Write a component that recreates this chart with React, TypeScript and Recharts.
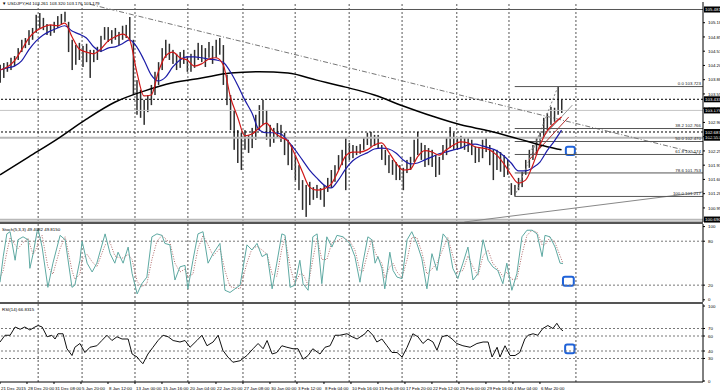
import React from "react";
import {
  ComposedChart,
  Bar,
  Line,
  XAxis,
  YAxis,
  ReferenceLine,
  ReferenceArea,
} from "recharts";

// USDJPY H4 — one candle = 2 H4 bars, x axis in candle units
const X_MAX = 195.3;

const candleHigh = [
  104.22, 104.26, 104.28, 104.38, 104.42, 104.6, 104.79, 104.83, 105.01, 105.06,
  105.36, 105.4, 105.29, 105.15, 105.13, 105.2, 105.33, 105.38, 105.43, 105.2,
  104.79, 104.67, 104.72, 104.65, 104.7, 104.56, 104.56, 104.63, 104.88, 105.08,
  105.08, 105.01, 105.06, 104.97, 105.11, 105.13, 105.31, 104.79, 103.87, 103.65,
  103.42, 103.53, 103.76, 104.06, 104.28, 104.6, 104.79, 104.7, 104.56, 104.47,
  104.51, 104.56, 104.42, 104.47, 104.56, 104.72, 104.67, 104.6, 104.74, 104.65,
  104.79, 104.83, 104.67, 103.99, 103.53, 103.19, 102.73, 102.67, 102.73, 102.62,
  102.78, 103.08, 103.3, 103.42, 103.19, 102.85, 102.78, 102.89, 102.85, 102.67,
  102.51, 102.39, 102.16, 101.93, 101.59, 101.48, 101.55, 101.43, 101.48, 101.41,
  101.48, 101.64, 101.82, 101.93, 102.16, 102.28, 102.57, 102.44, 102.39, 102.37,
  102.41, 102.55, 102.67, 102.69, 102.62, 102.62, 102.39, 102.28, 102.16, 102.05,
  102.0, 101.93, 101.87, 102.05, 102.12, 102.51, 102.69, 102.44, 102.39, 102.32,
  102.28, 102.16, 102.12, 102.39, 102.55, 102.8, 102.67, 102.57, 102.6, 102.55,
  102.57, 102.51, 102.35, 102.32, 102.51, 102.57, 102.39, 102.28, 102.28, 102.23,
  102.16, 102.05, 101.52, 101.48, 101.64, 101.78, 102.05, 102.28, 102.39, 102.55,
  102.67, 103.01, 103.12, 103.26, 103.24, 103.72, 103.42,
];

const candleLow = [
  103.81, 103.92, 104.06, 104.1, 104.19, 104.33, 104.51, 104.6, 104.67, 104.79,
  104.95, 105.06, 105.01, 104.9, 104.88, 104.95, 105.06, 105.15, 105.2, 104.51,
  104.1, 104.22, 104.33, 104.17, 104.28, 103.92, 104.28, 104.33, 104.51, 104.79,
  104.74, 104.7, 104.79, 104.67, 104.79, 104.83, 104.79, 103.53, 103.08, 103.01,
  102.85, 103.14, 103.3, 103.53, 103.76, 104.1, 104.38, 104.33, 104.24, 104.1,
  104.15, 104.24, 104.06, 104.06, 104.15, 104.33, 104.28, 104.17, 104.38, 104.24,
  104.38, 104.45, 103.76, 103.3, 102.73, 102.28, 101.98, 101.82, 102.28, 102.21,
  102.32, 102.51, 102.73, 102.85, 102.51, 102.35, 102.44, 102.55, 102.46, 102.16,
  101.93, 101.82, 101.59, 101.36, 100.91, 100.75, 101.02, 101.14, 101.18, 101.14,
  100.98, 101.32, 101.41, 101.55, 101.82, 101.93, 101.36, 102.05, 102.09, 102.16,
  102.19, 102.28, 102.39, 102.35, 102.37, 102.32, 102.05, 101.93, 101.75, 101.71,
  101.59, 101.59, 101.36, 101.75, 101.82, 102.0, 102.16, 102.05, 101.89, 101.93,
  101.89, 101.66, 101.71, 102.05, 102.16, 102.32, 102.28, 102.28, 102.32, 102.28,
  102.23, 102.16, 101.98, 102.0, 102.09, 102.23, 101.93, 101.59, 101.82, 101.78,
  101.66, 101.71, 101.25, 101.22, 101.36, 101.43, 101.71, 101.87, 102.05, 102.16,
  102.32, 102.57, 102.73, 102.85, 102.92, 103.08, 103.12,
];

// moving averages read every 2nd candle
const redMA = [
  104.1, 104.17, 104.31, 104.56, 104.83, 104.99, 105.08, 105.13, 105.11, 105.17,
  104.86, 104.58, 104.51, 104.47, 104.58, 104.76, 104.86, 104.92, 104.79, 104.06,
  103.51, 103.53, 104.06, 104.42, 104.51, 104.38, 104.33, 104.19, 104.24, 104.35,
  104.38, 104.22, 103.49, 103.03, 102.6, 102.64, 102.78, 102.89, 102.69, 102.57,
  102.48, 102.16, 101.78, 101.43, 101.36, 101.39, 101.5, 101.8, 102.14, 102.23,
  102.23, 102.28, 102.39, 102.44, 102.23, 101.98, 101.82, 101.84, 102.12, 102.26,
  102.23, 102.16, 102.28, 102.39, 102.46, 102.44, 102.35, 102.32, 102.28, 102.16,
  101.96, 101.71, 101.52, 101.59, 101.93, 102.39, 102.71, 102.89, 103.03,
];

const blueMA = [
  104.1, 104.15, 104.19, 104.31, 104.56, 104.76, 104.9, 104.99, 105.06, 105.11,
  104.99, 104.92, 104.83, 104.63, 104.53, 104.6, 104.63, 104.7, 104.79, 104.63,
  104.33, 103.99, 103.85, 103.94, 104.17, 104.33, 104.4, 104.4, 104.38, 104.35,
  104.33, 104.28, 104.06, 103.76, 103.42, 103.12, 102.73, 102.67, 102.67, 102.64,
  102.48, 102.28, 102.05, 101.82, 101.64, 101.48, 101.41, 101.59, 101.84, 102.03,
  102.14, 102.21, 102.3, 102.32, 102.3, 102.21, 102.05, 101.96, 101.98, 102.05,
  102.12, 102.19, 102.23, 102.28, 102.32, 102.39, 102.41, 102.37, 102.32, 102.26,
  102.14, 101.98, 101.8, 101.8, 101.87, 102.0, 102.26, 102.48, 102.73,
];

const blackMAx = [0, 8, 16, 24, 32, 40, 48, 56, 64, 72, 80, 88, 96, 104, 112, 120, 128, 136, 144, 152, 156];
const blackMA = [
  101.71, 102.12, 102.53, 102.98, 103.37, 103.62, 103.81, 103.92, 104.03, 104.06,
  104.03, 103.87, 103.71, 103.53, 103.28, 103.05, 102.85, 102.71, 102.53, 102.35, 102.28,
];

const stochX = [
  0, 0.9, 1.9, 2.8, 4.2, 5, 6.4, 7.8, 8.3, 9.2, 10.3, 10.6, 11.7, 13.3, 14.7, 16.7, 18.1, 20, 20.8, 22.2,
  22.8, 24.2, 25.6, 26.9, 29.2, 30.6, 31.9, 32.8, 34.2, 35.6, 36.7, 38.1, 39.4, 40.8, 42.2, 43.6, 45, 45.8, 47.2, 48.6,
  50, 51.4, 52.2, 53.6, 55, 56.4, 57.8, 59.2, 61.1, 62.5, 63.9, 66.7, 68.6, 70, 71.4, 72.8, 74.2, 75.6, 76.9, 78.3,
  79.2, 80.6, 81.9, 83.3, 84.2, 85.6, 86.9, 88.1, 89.4, 90.8, 92.2, 93.6, 95.3, 97.2, 98.6, 100, 100.8, 102.2, 103.3, 104.2,
  105, 106.1, 106.9, 108.3, 109.2, 110.3, 111.7, 113.1, 114.4, 115.8, 117.2, 118.6, 120, 121.4, 123.1, 124.4, 125.8, 127.2, 128.6, 130,
  131.4, 132.8, 134.2, 135.6, 136.9, 138.3, 139.7, 140.8, 142.2, 143.6, 145, 146.4, 147.8, 149.2, 150.6, 151.4, 152.8, 154.2, 155.6, 156.4,
];
const stochK = [
  24, 59, 90, 93, 54, 82, 86, 82, 43, 63, 93, 96, 72, 17, 50, 88, 82, 17, 20, 54,
  80, 50, 38, 50, 90, 63, 50, 65, 50, 72, 36, 8, 22, 31, 86, 90, 88, 77, 75, 27,
  45, 47, 15, 54, 90, 93, 50, 63, 77, 13, 10, 20, 75, 68, 77, 59, 63, 15, 50, 90,
  88, 17, 20, 54, 22, 13, 86, 90, 22, 86, 72, 88, 86, 77, 59, 24, 50, 86, 82, 50,
  59, 43, 15, 65, 40, 31, 29, 82, 93, 77, 56, 15, 63, 40, 90, 82, 43, 29, 50, 72,
  27, 36, 82, 54, 45, 40, 22, 50, 13, 36, 86, 95, 95, 90, 59, 88, 86, 72, 50, 49.4,
];
const stochD = [
  30, 40, 65, 85, 75, 70, 78, 84, 75, 62, 72, 80, 88, 45, 35, 70, 86, 40, 28, 35,
  55, 62, 52, 45, 75, 78, 60, 58, 57, 62, 55, 25, 18, 22, 55, 80, 88, 84, 78, 50,
  38, 42, 32, 35, 70, 88, 75, 60, 70, 40, 18, 15, 50, 70, 73, 68, 62, 35, 32, 70,
  85, 45, 22, 35, 35, 20, 55, 85, 55, 55, 78, 80, 85, 80, 68, 40, 38, 65, 82, 65,
  57, 50, 30, 45, 50, 38, 30, 55, 85, 85, 65, 35, 42, 50, 70, 85, 60, 38, 40, 60,
  45, 33, 60, 68, 50, 42, 32, 38, 28, 28, 62, 88, 95, 92, 75, 75, 85, 78, 60, 49.8,
];

const rsiX = [
  0, 1.4, 2.8, 4.2, 5.6, 6.9, 8.3, 9.7, 10.6, 11.7, 13.1, 14.4, 15.3, 16.1, 17.5, 18.6, 20, 20.8, 22.2, 23.6,
  25, 26.9, 28.3, 29.7, 31.1, 32.5, 33.9, 35.6, 36.7, 38.1, 38.9, 39.7, 41.1, 42.5, 43.9, 45.3, 46.7, 48.1, 50, 51.4,
  52.8, 54.7, 56.1, 57.5, 59.2, 60.6, 61.9, 63.3, 64.7, 66.7, 68.6, 70.3, 71.7, 73.1, 74.2, 75.6, 76.9, 78.3, 79.7, 81.4,
  82.8, 84.2, 85.6, 86.9, 88.9, 90.3, 91.7, 93.1, 94.4, 96.4, 97.8, 99.2, 101.4, 102.2, 103.6, 104.7, 106.1, 107.5, 108.9, 110.3,
  111.7, 113.1, 114.7, 116.1, 117.5, 118.9, 120.3, 121.4, 122.8, 124.2, 125.6, 126.9, 128.6, 130.6, 132.5, 134.2, 135.6, 136.7, 138.1, 138.9,
  140.3, 141.7, 143.1, 144.4, 145.8, 146.7, 148.1, 149.4, 150.8, 152.2, 153.6, 154.7, 155.6, 156.4,
];
const rsiV = [
  52, 61, 61, 72, 69, 72, 68, 72, 74, 72, 59, 61, 56, 63, 63, 43, 34, 45, 50, 38,
  45, 47, 54, 61, 54, 59, 56, 56, 36, 32, 27, 23, 36, 45, 54, 61, 59, 54, 52, 54,
  45, 54, 61, 47, 52, 61, 41, 32, 25, 27, 34, 43, 50, 43, 54, 36, 38, 47, 45, 43,
  43, 29, 34, 43, 36, 45, 47, 61, 61, 63, 59, 56, 63, 68, 61, 52, 56, 47, 38, 38,
  32, 45, 63, 59, 50, 56, 52, 41, 59, 61, 56, 50, 47, 45, 50, 52, 52, 32, 45, 32,
  47, 34, 34, 38, 56, 61, 63, 61, 70, 74, 70, 77, 70, 66.8,
];

const timeLabels = [
  "21 Dec 2015", "28 Dec 20:00", "31 Dec 08:00", "5 Jan 20:00", "8 Jan 12:00",
  "13 Jan 00:00", "15 Jan 16:00", "20 Jan 04:00", "22 Jan 20:00", "27 Jan 08:00",
  "30 Jan 00:00", "3 Feb 12:00", "8 Feb 04:00", "10 Feb 16:00", "15 Feb 08:00",
  "17 Feb 20:00", "22 Feb 12:00", "25 Feb 00:00", "29 Feb 16:00", "4 Mar 04:00",
  "6 Mar 20:00",
];
const timeTicks = timeLabels.map((_, i) => i * 7.5);
const weekGrid = [10.6, 22.8, 37.5, 52.2, 67.5, 82, 97, 111.7, 126.9, 141.4, 160];

const priceTicks = [
  105.18, 104.855, 104.53, 104.205, 103.88, 103.555, 103.23, 102.905, 102.58,
  102.255, 101.93, 101.605, 101.28, 100.955,
];

const fibLevels = [
  { r: "0.0", v: 103.723 },
  { r: "38.2", v: 102.766 },
  { r: "50.0", v: 102.47 },
  { r: "61.8", v: 102.174 },
  { r: "78.6", v: 101.753 },
  { r: "100.0", v: 101.217 },
];

const FONT = "'Liberation Sans', Arial, sans-serif";
const FS = 4.4;

const mainRows = candleHigh.map((h, i) => {
  const bi = blackMAx.indexOf(i);
  return {
    x: i,
    range: [candleLow[i], h],
    red: i % 2 === 0 ? redMA[i / 2] : null,
    blue: i % 2 === 0 ? blueMA[i / 2] : null,
    black: bi >= 0 ? blackMA[bi] : null,
  };
});
const stochRows = stochX.map((x, i) => ({ x, k: stochK[i], d: stochD[i] }));
const rsiRows = rsiX.map((x, i) => ({ x, v: rsiV[i] }));

const RightTick = (props: any) => {
  const { x, y, payload, digits } = props;
  return (
    <text x={x + 1} y={y + 1.6} fontSize={FS} fontFamily={FONT} fill="#000">
      {Number(payload.value).toFixed(digits)}
    </text>
  );
};

const TimeTick = (props: any) => {
  const { x, y, payload } = props;
  const label = timeLabels[Math.round(payload.value / 7.5)];
  return (
    <text x={x + 1} y={y + 3.5} fontSize={FS} fontFamily={FONT} fill="#000">
      {label}
    </text>
  );
};

const TagLabel = (props: any) => {
  const { viewBox, text } = props;
  const right = viewBox.x + viewBox.width;
  return (
    <g>
      <rect x={right + 1} y={viewBox.y - 3} width={17} height={6} fill="#000" />
      <text x={right + 2} y={viewBox.y + 1.6} fontSize={FS} fontFamily={FONT} fill="#fff">
        {text}
      </text>
    </g>
  );
};

const FibLabel = (props: any) => {
  const { viewBox, text } = props;
  return (
    <text
      x={viewBox.x + viewBox.width - 2}
      y={viewBox.y - 1.2}
      fontSize={FS}
      fontFamily={FONT}
      fill="#222"
      textAnchor="end"
    >
      {text}
    </text>
  );
};

const Candle = (props: any) => {
  const { x, width, y, height } = props;
  const cx = x + width / 2;
  return <rect x={cx - 0.75} y={y} width={1.5} height={Math.max(height, 1)} fill="#2e2e2e" />;
};

const gridLines = weekGrid.map((g) => (
  <ReferenceLine key={"g" + g} x={g} stroke="#555" strokeDasharray="2 2" />
));

function MainPanel() {
  return (
    <ComposedChart
      width={720}
      height={224}
      data={mainRows}
      margin={{ top: 2, right: 0, bottom: 2, left: 0 }}
    >
      <XAxis type="number" dataKey="x" domain={[0, X_MAX]} allowDataOverflow hide />
      <YAxis
        orientation="right"
        width={17}
        domain={[100.634, 105.652]}
        allowDataOverflow
        ticks={priceTicks}
        interval={0}
        tickSize={2}
        tickLine={{ stroke: "#000" }}
        axisLine={{ stroke: "#000" }}
        tick={<RightTick digits={3} />}
      />
      {gridLines}
      <ReferenceLine y={105.481} stroke="#555" label={<TagLabel text="105.481" />} />
      <ReferenceLine y={103.433} stroke="#000" strokeDasharray="2 2" label={<TagLabel text="103.433" />} />
      <ReferenceLine y={103.179} stroke="#c4c4c4" label={<TagLabel text="103.179" />} />
      <ReferenceLine y={102.687} stroke="#000" strokeDasharray="2 2" label={<TagLabel text="102.687" />} />
      <ReferenceLine y={102.557} stroke="#b8b8b8" strokeWidth={2} label={<TagLabel text="102.557" />} />
      <ReferenceLine y={100.69} stroke="#b8b8b8" strokeWidth={1.5} label={<TagLabel text="100.690" />} />
      <ReferenceLine y={100.652} stroke="#b8b8b8" strokeWidth={1.5} />
      <ReferenceLine
        segment={[{ x: 25, y: 105.6 }, { x: X_MAX, y: 102.17 }]}
        stroke="#777"
        strokeDasharray="5 2 1 2"
      />
      <ReferenceLine
        segment={[{ x: 129, y: 100.634 }, { x: X_MAX, y: 101.32 }]}
        stroke="#888"
      />
      <ReferenceLine
        segment={[{ x: 143, y: 101.217 }, { x: 155, y: 103.723 }]}
        stroke="#888"
        strokeDasharray="2 2"
      />
      <ReferenceLine segment={[{ x: 147.5, y: 102.28 }, { x: 159, y: 103.3 }]} stroke="#999" />
      <ReferenceLine segment={[{ x: 147, y: 102.05 }, { x: 158, y: 103.03 }]} stroke="#b03030" />
      {fibLevels.map((f) => (
        <ReferenceLine
          key={f.r}
          segment={[{ x: 143, y: f.v }, { x: X_MAX, y: f.v }]}
          stroke="#555"
          label={<FibLabel text={`${f.r} ${f.v.toFixed(3)}`} />}
        />
      ))}
      <Bar dataKey="range" barSize={2} shape={<Candle />} isAnimationActive={false} />
      <Line type="monotone" dataKey="black" stroke="#000" strokeWidth={1.5} dot={false} connectNulls isAnimationActive={false} />
      <Line type="monotone" dataKey="blue" stroke="#1c1ca8" strokeWidth={1.2} dot={false} connectNulls isAnimationActive={false} />
      <Line type="monotone" dataKey="red" stroke="#d01818" strokeWidth={1.2} dot={false} connectNulls isAnimationActive={false} />
      <ReferenceArea x1={157.2} x2={159.7} y1={102.16} y2={102.35} stroke="#1f62d8" strokeWidth={2} fill="#fff" fillOpacity={0} radius={2} />
    </ComposedChart>
  );
}

function StochPanel() {
  return (
    <ComposedChart width={720} height={78} data={stochRows} margin={{ top: 0, right: 0, bottom: 0, left: 0 }}>
      <XAxis type="number" dataKey="x" domain={[0, X_MAX]} allowDataOverflow hide />
      <YAxis
        orientation="right"
        width={17}
        domain={[-3, 103.5]}
        allowDataOverflow
        ticks={[100, 80, 20, 0]}
        interval={0}
        tickSize={2}
        tickLine={{ stroke: "#000" }}
        axisLine={{ stroke: "#000" }}
        tick={<RightTick digits={0} />}
      />
      {gridLines}
      <ReferenceLine y={80} stroke="#777" strokeDasharray="2 2" />
      <ReferenceLine y={20} stroke="#777" strokeDasharray="2 2" />
      <Line type="linear" dataKey="d" stroke="#b06a6a" strokeDasharray="1 1.5" strokeWidth={1} dot={false} isAnimationActive={false} />
      <Line type="linear" dataKey="k" stroke="#5ea9a2" strokeWidth={1} dot={false} isAnimationActive={false} />
      <ReferenceArea x1={156.4} x2={159.4} y1={19.2} y2={31.5} stroke="#1f62d8" strokeWidth={2} fill="#fff" fillOpacity={0} radius={2} />
    </ComposedChart>
  );
}

function RsiPanel() {
  return (
    <ComposedChart width={720} height={86} data={rsiRows} margin={{ top: 0, right: 0, bottom: 0, left: 0 }}>
      <XAxis
        type="number"
        dataKey="x"
        domain={[0, X_MAX]}
        allowDataOverflow
        ticks={timeTicks}
        interval={0}
        height={8}
        tickSize={2}
        axisLine={{ stroke: "#000" }}
        tickLine={{ stroke: "#000" }}
        tick={<TimeTick />}
      />
      <YAxis
        orientation="right"
        width={17}
        domain={[-1.35, 102.7]}
        allowDataOverflow
        ticks={[100, 70, 60, 40, 30, 0]}
        interval={0}
        tickSize={2}
        tickLine={{ stroke: "#000" }}
        axisLine={{ stroke: "#000" }}
        tick={<RightTick digits={0} />}
      />
      {gridLines}
      {[70, 60, 40, 30].map((lv) => (
        <ReferenceLine key={lv} y={lv} stroke="#777" strokeDasharray="2 2" />
      ))}
      <Line type="linear" dataKey="v" stroke="#111" strokeWidth={1} dot={false} isAnimationActive={false} />
      <ReferenceArea x1={157} x2={159.6} y1={36.9} y2={48.6} stroke="#1f62d8" strokeWidth={2} fill="#fff" fillOpacity={0} radius={2} />
    </ComposedChart>
  );
}

const smallText: React.CSSProperties = {
  position: "absolute",
  fontFamily: FONT,
  fontSize: FS,
  color: "#000",
  whiteSpace: "nowrap",
  lineHeight: "5px",
};

export default function App() {
  return (
    <div
      style={{
        position: "absolute",
        left: 0,
        top: 0,
        width: 720,
        height: 390,
        background: "#fff",
        overflow: "hidden",
      }}
    >
      <div style={{ position: "absolute", left: 0, top: 0 }}>
        <MainPanel />
      </div>
      <div style={{ position: "absolute", left: 0, top: 224 }}>
        <StochPanel />
      </div>
      <div style={{ position: "absolute", left: 0, top: 304 }}>
        <RsiPanel />
      </div>
      <div style={{ position: "absolute", left: 0, top: 222, width: 703, height: 2, background: "#555" }} />
      <div style={{ position: "absolute", left: 0, top: 302, width: 703, height: 2, background: "#555" }} />
      <div style={{ ...smallText, left: 2, top: 1 }}>▼ USDJPY,H4 103.261 103.320 103.176 103.179</div>
      <div style={{ ...smallText, left: 2, top: 227 }}>Stoch(5,3,3) 49.4082 49.8150</div>
      <div style={{ ...smallText, left: 2, top: 307 }}>RSI(14) 66.8315</div>
    </div>
  );
}
